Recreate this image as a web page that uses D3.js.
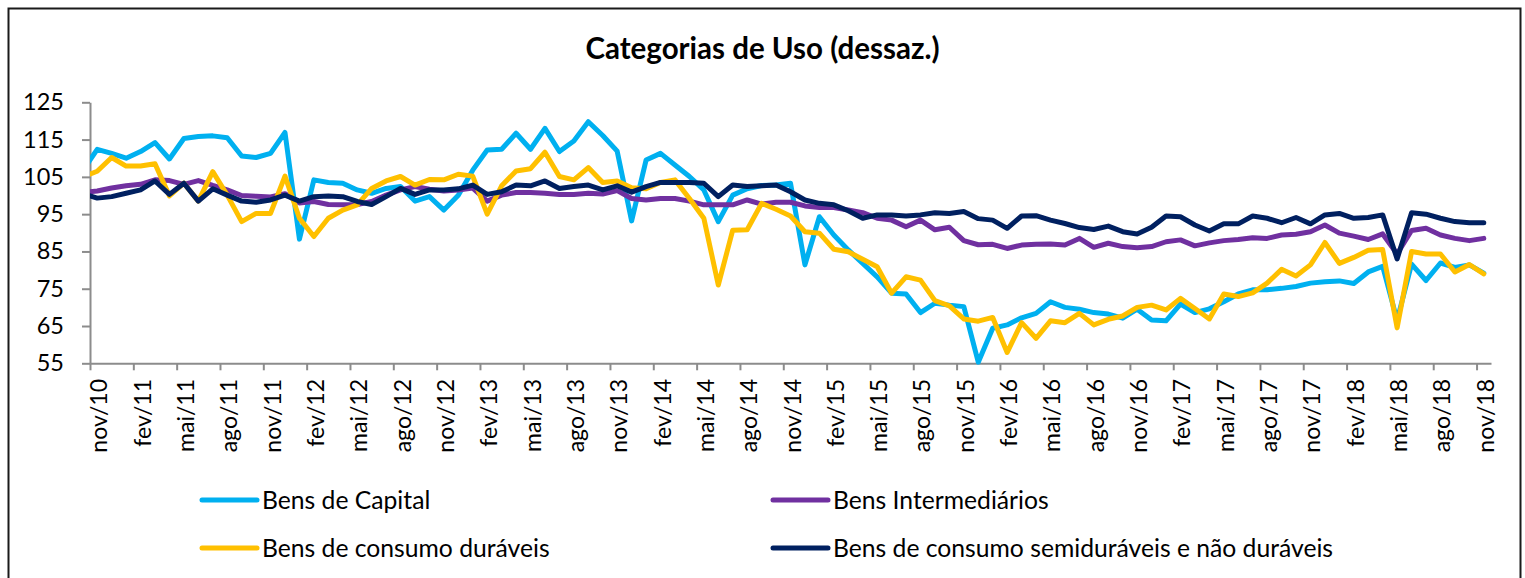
<!DOCTYPE html>
<html>
<head>
<meta charset="utf-8">
<script src="https://cdn.jsdelivr.net/npm/d3@7"></script>
<style>
  html, body { margin: 0; padding: 0; background: #fff; }
  svg { display: block; }
  text { font-family: Lato, "Open Sans", "Liberation Sans", sans-serif; fill: #000; }
</style>
</head>
<body>
<div id="chart"></div>
<script>
// ---- Data (monthly, seasonally adjusted index). The first month (out/10) sits just
// left of the plot area and is clipped, as in the original chart.
const months = [
  "out/10","nov/10","dez/10",
  "jan/11","fev/11","mar/11","abr/11","mai/11","jun/11","jul/11","ago/11","set/11","out/11","nov/11","dez/11",
  "jan/12","fev/12","mar/12","abr/12","mai/12","jun/12","jul/12","ago/12","set/12","out/12","nov/12","dez/12",
  "jan/13","fev/13","mar/13","abr/13","mai/13","jun/13","jul/13","ago/13","set/13","out/13","nov/13","dez/13",
  "jan/14","fev/14","mar/14","abr/14","mai/14","jun/14","jul/14","ago/14","set/14","out/14","nov/14","dez/14",
  "jan/15","fev/15","mar/15","abr/15","mai/15","jun/15","jul/15","ago/15","set/15","out/15","nov/15","dez/15",
  "jan/16","fev/16","mar/16","abr/16","mai/16","jun/16","jul/16","ago/16","set/16","out/16","nov/16","dez/16",
  "jan/17","fev/17","mar/17","abr/17","mai/17","jun/17","jul/17","ago/17","set/17","out/17","nov/17","dez/17",
  "jan/18","fev/18","mar/18","abr/18","mai/18","jun/18","jul/18","ago/18","set/18","out/18","nov/18"
];

const tickLabels = [
  "nov/10","fev/11","mai/11","ago/11","nov/11","fev/12","mai/12","ago/12","nov/12",
  "fev/13","mai/13","ago/13","nov/13","fev/14","mai/14","ago/14","nov/14",
  "fev/15","mai/15","ago/15","nov/15","fev/16","mai/16","ago/16","nov/16",
  "fev/17","mai/17","ago/17","nov/17","fev/18","mai/18","ago/18","nov/18"
];

const yTicks = [55, 65, 75, 85, 95, 105, 115, 125];

const bensCapital = [
  106.6,
  112.4,111.3,110.0,111.8,114.2,109.8,115.3,115.8,116.0,115.5,110.6,110.2,
  111.3,116.9,88.3,104.2,103.5,103.3,101.5,100.6,101.9,102.4,98.5,99.7,
  96.1,100.1,106.8,112.2,112.4,116.7,112.4,118.0,111.8,114.6,119.8,116.1,
  111.9,93.2,109.5,111.3,108.2,105.1,101.5,93.0,100.1,101.8,102.7,102.8,
  103.3,81.4,94.3,89.4,85.4,81.8,78.2,73.8,73.6,68.6,71.1,70.6,
  70.2,55.3,64.4,65.3,67.2,68.4,71.5,70.0,69.5,68.6,68.2,67.1,
  69.5,66.6,66.4,70.9,68.6,69.6,71.5,73.6,74.7,74.7,75.1,75.6,
  76.5,76.9,77.1,76.4,79.5,81.0,66.5,81.6,77.2,81.9,80.7,81.4,
  79.2
];

const bensIntermediarios = [
  100.8,
  101.2,102.0,102.6,103.0,104.2,104.0,103.0,104.0,102.7,101.5,100.0,99.8,
  99.6,100.5,98.0,98.4,97.6,97.5,97.6,98.4,100.1,101.5,102.4,101.7,
  101.2,101.5,102.0,98.5,100.1,100.8,100.8,100.6,100.3,100.3,100.6,100.4,
  101.3,99.2,98.8,99.2,99.2,98.5,97.5,97.5,97.5,98.8,97.7,98.2,
  98.2,97.2,96.8,96.8,96.1,95.4,93.9,93.4,91.6,93.4,90.8,91.5,
  87.9,86.8,86.9,85.8,86.7,86.9,87.0,86.7,88.5,86.1,87.2,86.3,
  86.0,86.3,87.6,88.1,86.5,87.3,87.9,88.2,88.7,88.5,89.4,89.6,
  90.3,92.1,89.9,89.1,88.2,89.7,84.3,90.6,91.2,89.4,88.5,87.9,
  88.5
];

const bensDuraveis = [
  105.0,
  106.5,110.2,107.9,107.9,108.5,99.9,103.3,98.5,106.4,100.1,93.0,95.2,
  95.2,105.2,93.9,89.0,93.9,96.1,97.5,101.9,103.9,105.1,102.8,104.3,
  104.2,105.7,105.2,95.0,102.6,106.6,107.2,111.6,105.1,104.2,107.5,103.5,
  103.9,102.1,101.8,103.5,104.2,99.2,93.9,76.0,90.7,90.8,97.9,96.3,
  94.5,90.3,89.9,85.6,84.9,82.9,80.9,73.8,78.2,77.3,71.8,70.4,
  66.9,66.3,67.3,57.9,65.9,61.7,66.4,65.9,68.4,65.3,66.8,67.7,
  70.0,70.6,69.3,72.4,69.7,66.9,73.6,72.9,73.9,76.5,80.2,78.4,
  81.4,87.4,81.8,83.4,85.3,85.5,64.5,85.0,84.3,84.3,79.5,81.5,
  79.0
];

const bensSemiduraveis = [
  100.5,
  99.3,99.7,100.6,101.5,103.9,100.3,103.3,98.5,101.8,100.1,98.5,98.2,
  98.8,100.1,98.5,99.7,99.9,99.7,98.4,97.6,99.7,101.9,100.3,101.5,
  101.5,101.8,102.8,100.3,101.0,102.8,102.6,103.9,101.9,102.4,102.8,101.5,
  102.6,100.9,102.4,103.5,103.5,103.5,103.3,99.7,102.8,102.4,102.6,102.8,
  101.0,98.8,97.9,97.5,95.9,93.9,94.8,94.8,94.5,94.8,95.4,95.2,
  95.7,93.8,93.4,91.2,94.5,94.6,93.4,92.5,91.4,90.9,91.8,90.3,
  89.7,91.5,94.5,94.3,92.1,90.5,92.4,92.4,94.5,93.9,92.7,94.1,
  92.4,94.8,95.2,93.9,94.1,94.8,83.0,95.4,95.0,93.9,93.0,92.7,
  92.7
];

const seriesNames = [
  "Bens de Capital",
  "Bens Intermediários",
  "Bens de consumo duráveis",
  "Bens de consumo semiduráveis e não duráveis"
];
const seriesValues = [bensCapital, bensIntermediarios, bensDuraveis, bensSemiduraveis];
const seriesColors = ["#00B0F0", "#7030A0", "#FFC000", "#002060"];

// ---- Layout
const W = 1525, H = 578;
const plot = { left: 90, right: 1491, top: 102.3, bottom: 363.3 };

const svg = d3.select("#chart").append("svg")
  .attr("width", W).attr("height", H);

svg.append("rect")
  .attr("x", 8.5).attr("y", 8.5)
  .attr("width", 1512).attr("height", 600)
  .attr("fill", "#fff")
  .attr("stroke", "#1a1a1a").attr("stroke-width", 2);

// index -1 = out/10 (clipped), index 0 = nov/10 ... 96 = nov/18
const x = d3.scaleLinear().domain([-0.5, 96.5]).range([plot.left, plot.right]);
const y = d3.scaleLinear().domain([55, 125]).range([plot.bottom, plot.top]);

svg.append("text")
  .attr("x", W / 2).attr("y", 59)
  .attr("text-anchor", "middle")
  .style("font-weight", "700").style("font-size", "29.5px")
  .text("Categorias de Uso (dessaz.)");

// Y axis
const yAxis = svg.append("g")
  .attr("transform", `translate(${plot.left},0)`)
  .call(d3.axisLeft(y).tickValues(yTicks).tickSize(8).tickSizeOuter(0).tickPadding(18)
    .tickFormat(d3.format("d")));
yAxis.select(".domain").attr("stroke", "#8c8c8c").attr("stroke-width", 2);
yAxis.selectAll(".tick line").attr("stroke", "#8c8c8c").attr("stroke-width", 2);
yAxis.selectAll(".tick text")
  .style("font-family", "Lato, 'Open Sans', sans-serif")
  .style("font-size", "23.5px").attr("fill", "#000");

// X axis: tick marks at category boundaries, every 3 months
const tickBounds = tickLabels.map((_, k) => k * 3 - 0.5);
const xAxis = svg.append("g")
  .attr("transform", `translate(0,${plot.bottom})`)
  .call(d3.axisBottom(x).tickValues(tickBounds).tickSize(7).tickSizeOuter(0).tickFormat(""));
xAxis.select(".domain").attr("stroke", "#8c8c8c").attr("stroke-width", 2);
xAxis.selectAll(".tick line").attr("stroke", "#8c8c8c").attr("stroke-width", 2);

svg.append("g").selectAll("text")
  .data(tickLabels)
  .join("text")
  .attr("transform", (d, k) => `translate(${x(k * 3) + 10},379) rotate(-90)`)
  .attr("text-anchor", "end")
  .style("font-size", "23px")
  .text(d => d);

// Lines
svg.append("clipPath").attr("id", "plotClip")
  .append("rect")
  .attr("x", plot.left).attr("y", 0)
  .attr("width", W - plot.left).attr("height", H);

const line = d3.line()
  .x((d, i) => x(i - 1))
  .y(d => y(d));

svg.append("g").attr("clip-path", "url(#plotClip)")
  .selectAll("path")
  .data(seriesValues)
  .join("path")
  .attr("d", d => line(d))
  .attr("fill", "none")
  .attr("stroke", (d, i) => seriesColors[i])
  .attr("stroke-width", 5)
  .attr("stroke-linejoin", "round")
  .attr("stroke-linecap", "round");

// Legend
const legendPos = [
  { lx: 202, ly: 500 },
  { lx: 773, ly: 500 },
  { lx: 202, ly: 548 },
  { lx: 773, ly: 548 }
];
const lg = svg.append("g").selectAll("g")
  .data(seriesNames)
  .join("g")
  .attr("transform", (d, i) => `translate(${legendPos[i].lx},${legendPos[i].ly})`);
lg.append("line")
  .attr("x1", 0).attr("x2", 55).attr("y1", 0).attr("y2", 0)
  .attr("stroke", (d, i) => seriesColors[i])
  .attr("stroke-width", 5).attr("stroke-linecap", "round");
lg.append("text")
  .attr("x", 60).attr("y", 0).attr("dy", "0.36em")
  .style("font-size", "24.7px")
  .text(d => d);
</script>
</body>
</html>
